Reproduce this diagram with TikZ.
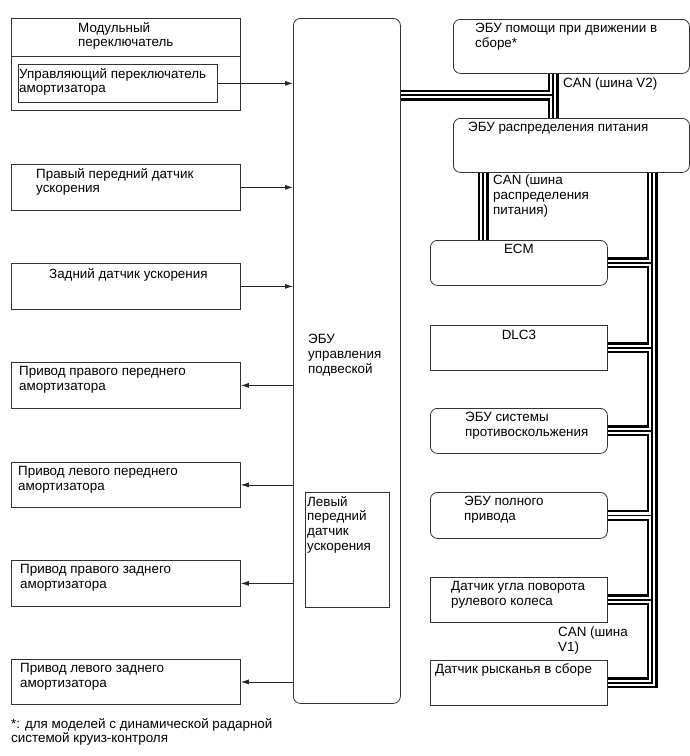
\documentclass[tikz,border=0pt]{standalone}
\usepackage{fontspec}
\setmainfont{Liberation Sans}
\usetikzlibrary{arrows.meta,positioning}
\tikzset{
  box/.style={draw=black!80, line width=0.8pt, inner sep=0pt, anchor=north west},
  rbox/.style={box, rounded corners=7pt},
  txt/.style={inner sep=0pt, align=left, font=\fontsize{13.4}{14.8}\selectfont},
  arrow/.style={-{Latex[length=8pt,width=5pt]}, line width=0.8pt, draw=black!85},
  busout/.style={line width=11pt, draw=black, line join=miter},
  busmid/.style={line width=6.6pt, draw=white, line join=miter},
  buscore/.style={line width=1.3pt, draw=black, line join=miter}
}

\begin{document}
\begin{tikzpicture}[x=1pt, y=-1pt]
\useasboundingbox (0,0) rectangle (690,756);

% suspension ECU
\node[rbox, minimum width=107pt, minimum height=685pt] (ecu) at (293,18) {};
\node[txt, below right=316pt and 15pt of ecu.north west] (ecu-t) {ЭБУ\\управления\\подвеской};
\node[box, minimum width=84pt, minimum height=115pt] (lfs) at (305,492) {};
\node[txt, below right=4pt and 2pt of lfs.north west] (lfs-t) {Левый\\передний\\датчик\\ускорения};

% inputs
\node[box, minimum width=229pt, minimum height=92pt] (modsw) at (11,18) {};
\draw[draw=black!80, line width=0.8pt] (modsw.west |- 0,56) -- (modsw.east |- 0,56);
\node[txt, below right=4pt and 67pt of modsw.north west] (modsw-t) {Модульный\\переключатель};
\node[box, minimum width=199pt, minimum height=38pt] (ctl) at (18,64) {};
\node[txt, below right=4pt and 1pt of ctl.north west] (ctl-t) {Управляющий переключатель\\амортизатора};
\node[box, minimum width=229pt, minimum height=46pt] (rfs) at (11,164) {};
\node[txt, below right=4pt and 25pt of rfs.north west] (rfs-t) {Правый передний датчик\\ускорения};
\node[box, minimum width=229pt, minimum height=46pt] (rs) at (11,263) {};
\node[txt, below right=5pt and 38pt of rs.north west] (rs-t) {Задний датчик ускорения};

% actuators
\node[box, minimum width=229pt, minimum height=46pt] (act1) at (11,362) {};
\node[txt, below right=4pt and 8pt of act1.north west] (act1-t) {Привод правого переднего\\амортизатора};
\node[box, minimum width=229pt, minimum height=45pt] (act2) at (11,462) {};
\node[txt, below right=4pt and 7pt of act2.north west] (act2-t) {Привод левого переднего\\амортизатора};
\node[box, minimum width=229pt, minimum height=46pt] (act3) at (11,560) {};
\node[txt, below right=4pt and 9pt of act3.north west] (act3-t) {Привод правого заднего\\амортизатора};
\node[box, minimum width=229pt, minimum height=45pt] (act4) at (11,659) {};
\node[txt, below right=4pt and 9pt of act4.north west] (act4-t) {Привод левого заднего\\амортизатора};

\draw[arrow] (ctl.east) -- (ctl.east -| ecu.west);
\draw[arrow] (rfs.east) -- (rfs.east -| ecu.west);
\draw[arrow] (rs.east) -- (rs.east -| ecu.west);
\foreach \a in {act1,act2,act3,act4}
  \draw[arrow] (\a.east -| ecu.west) -- (\a.east);

% CAN side
\node[rbox, minimum width=236pt, minimum height=54pt] (drv) at (453,19) {};
\node[txt, below right=4pt and 22pt of drv.north west] (drv-t) {ЭБУ помощи при движении в\\сборе*};
\node[rbox, minimum width=236pt, minimum height=54pt] (pwr) at (453,118) {};
\node[txt, below right=4pt and 15pt of pwr.north west] (pwr-t) {ЭБУ распределения питания};
\node[rbox, minimum width=177pt, minimum height=45pt] (ecm) at (430,240) {};
\node[txt, below=4pt of ecm.north] (ecm-t) {ECM};
\node[box, minimum width=177pt, minimum height=45pt] (dlc) at (430,325) {};
\node[txt, below=5pt of dlc.north] (dlc-t) {DLC3};
\node[rbox, minimum width=177pt, minimum height=45pt] (abs) at (430,408) {};
\node[txt, below right=4pt and 35pt of abs.north west] (abs-t) {ЭБУ системы\\противоскольжения};
\node[rbox, minimum width=177pt, minimum height=46pt] (awd) at (430,492) {};
\node[txt, below right=4pt and 34pt of awd.north west] (awd-t) {ЭБУ полного\\привода};
\node[box, minimum width=177pt, minimum height=45pt] (str) at (430,577) {};
\node[txt, below right=4pt and 21pt of str.north west] (str-t) {Датчик угла поворота\\рулевого колеса};
\node[box, minimum width=177pt, minimum height=45pt] (yaw) at (430,660) {};
\node[txt, below right=3pt and 5pt of yaw.north west] (yaw-t) {Датчик рысканья в сборе};

\coordinate (v2) at (553,95);
\coordinate (pb) at (483,200);
\coordinate (rb) at (652,200);
\foreach \lyr in {busout,busmid,buscore}{
  \draw[\lyr] (ecu.east |- v2) -- (v2);
  \draw[\lyr] (drv.south -| v2) -- (pwr.north -| v2);
  \draw[\lyr] (pwr.south -| pb) -- (ecm.north -| pb);
  \draw[\lyr] (pwr.south -| rb) -- (rb |- yaw.east) -- (yaw.east);
  \foreach \b in {ecm,dlc,abs,awd,str}
    \draw[\lyr] (\b.east) -- (\b.east -| rb);
}
\node[txt, anchor=north west] (can2) at (563,78) {CAN (шина V2)};
\node[txt, anchor=north west] (canp) at (493,175) {CAN (шина\\распределения\\питания)};
\node[txt, anchor=north west] (can1) at (558,627) {CAN (шина\\V1)};

\node[txt, anchor=north west] (note) at (11,718) {*: для моделей с динамической радарной\\системой круиз-контроля};
\end{tikzpicture}
\end{document}
